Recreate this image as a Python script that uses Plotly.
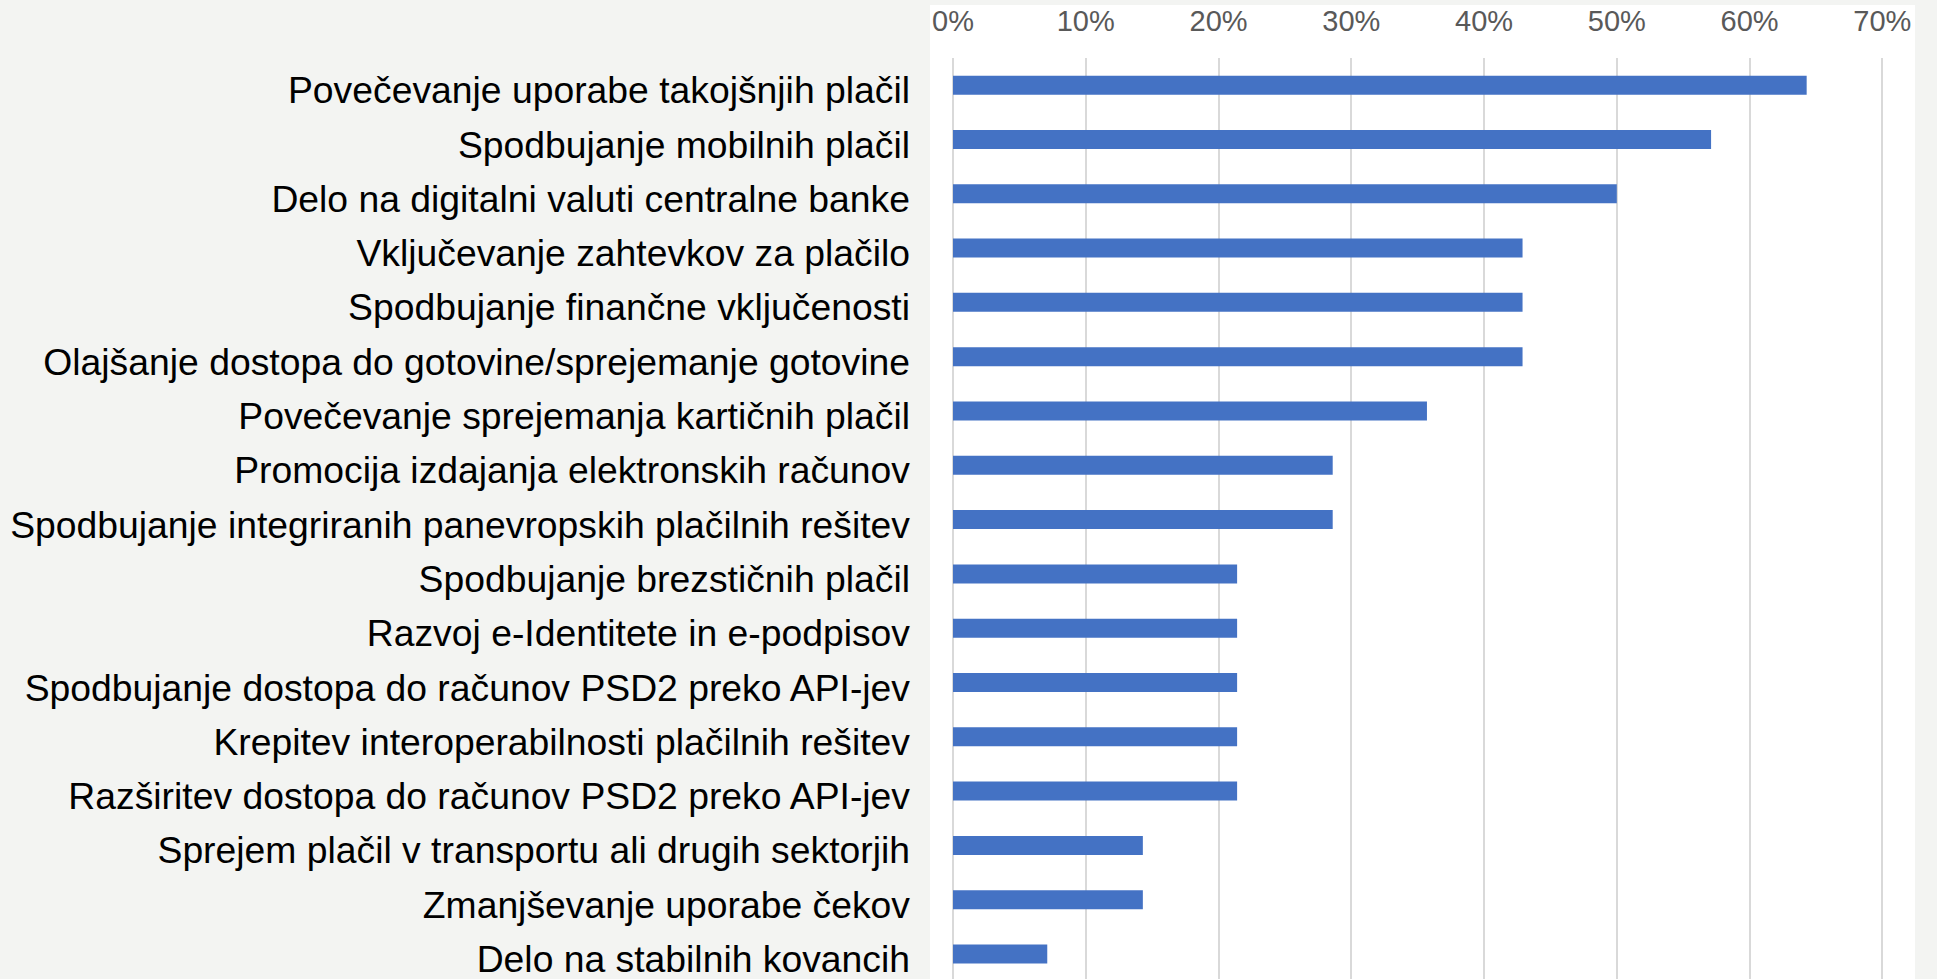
import plotly.graph_objects as go

categories = [
    "Povečevanje uporabe takojšnjih plačil",
    "Spodbujanje mobilnih plačil",
    "Delo na digitalni valuti centralne banke",
    "Vključevanje zahtevkov za plačilo",
    "Spodbujanje finančne vključenosti",
    "Olajšanje dostopa do gotovine/sprejemanje gotovine",
    "Povečevanje sprejemanja kartičnih plačil",
    "Promocija izdajanja elektronskih računov",
    "Spodbujanje integriranih panevropskih plačilnih rešitev",
    "Spodbujanje brezstičnih plačil",
    "Razvoj e-Identitete in e-podpisov",
    "Spodbujanje dostopa do računov PSD2 preko API-jev",
    "Krepitev interoperabilnosti plačilnih rešitev",
    "Razširitev dostopa do računov PSD2 preko API-jev",
    "Sprejem plačil v transportu ali drugih sektorjih",
    "Zmanjševanje uporabe čekov",
    "Delo na stabilnih kovancih",
]
values = [0.643, 0.571, 0.500, 0.429, 0.429, 0.429, 0.357, 0.286, 0.286,
          0.214, 0.214, 0.214, 0.214, 0.214, 0.143, 0.143, 0.071]
tick_vals = [0, 0.1, 0.2, 0.3, 0.4, 0.5, 0.6, 0.7]
tick_text = ["0%", "10%", "20%", "30%", "40%", "50%", "60%", "70%"]

W, H = 1937, 979
L, R, T, B = 953, 22, 58, 0

fig = go.Figure(go.Bar(
    x=values, y=categories, orientation="h",
    marker=dict(color="#4472C4", line=dict(width=0)),
    hoverinfo="x+y",
))

# white chart panel behind the plot (extends slightly past the axes)
pw = W - L - R
ph = H - T - B
fig.add_shape(type="rect", xref="paper", yref="paper", layer="below",
              x0=(930 - L) / pw, x1=(1915 - L) / pw,
              y0=-0.01, y1=1 + (T - 5) / ph,
              fillcolor="white", line=dict(width=0))

fig.update_layout(
    width=W, height=H,
    margin=dict(l=L, r=R, t=T, b=B, pad=0, autoexpand=False),
    paper_bgcolor="#f3f4f2",
    plot_bgcolor="rgba(0,0,0,0)",
    bargap=0.65,
    showlegend=False,
    font=dict(family="Liberation Sans, Arial, sans-serif"),
    xaxis=dict(
        side="top", range=[0, 0.7246],
        tickvals=tick_vals, ticktext=tick_text,
        showgrid=True, gridcolor="#d9d9d9", gridwidth=1.5,
        zeroline=True, zerolinecolor="#d9d9d9", zerolinewidth=1.5,
        showline=False, ticks="", ticklabelstandoff=20,
        tickfont=dict(size=29, color="#595959"),
        automargin=False, fixedrange=True,
    ),
    yaxis=dict(
        type="category", categoryorder="array", categoryarray=categories,
        range=[16.46, -0.5],
        showgrid=False, zeroline=False, showline=False, ticks="",
        ticklabelstandoff=42, ticklabelshift=-5,
        tickfont=dict(size=37.3, color="#000000"),
        automargin=False, fixedrange=True,
    ),
)

fig.write_html(
    "out.html",
    config={"displayModeBar": False},
    post_script="document.body.style.margin='0';document.body.style.overflow='hidden';"
                "document.body.style.background='#f3f4f2';",
)
